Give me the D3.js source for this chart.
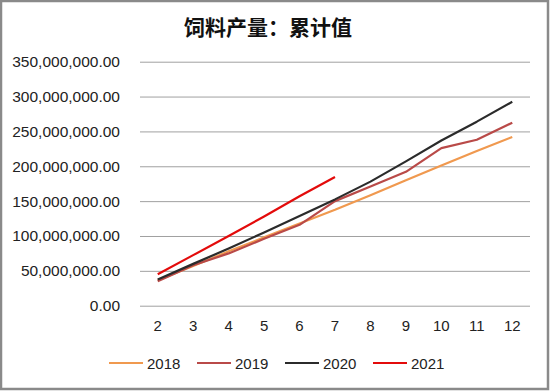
<!DOCTYPE html>
<html>
<head>
<meta charset="utf-8">
<script src="https://cdn.jsdelivr.net/npm/d3@7"></script>
<style>
  html, body { margin: 0; padding: 0; background: #fff; }
  svg { display: block; }
</style>
</head>
<body>
<svg id="chart" width="550" height="391"></svg>
<script>
const title = "饲料产量：累计值";
const months = ["2", "3", "4", "5", "6", "7", "8", "9", "10", "11", "12"];
const yTicks = [0, 50000000, 100000000, 150000000, 200000000, 250000000, 300000000, 350000000];
const seriesNames = ["2018", "2019", "2020", "2021"];
const v2018 = [36500000, 57000000, 78000000, 98000000, 118000000, 137500000, 158500000, 180000000, 201000000, 222000000, 242000000];
const v2019 = [35000000, 58000000, 75000000, 96000000, 116000000, 150000000, 171000000, 192000000, 226000000, 238000000, 262500000];
const v2020 = [37500000, 60000000, 82000000, 105000000, 128500000, 152500000, 178000000, 207000000, 237000000, 264000000, 292500000];
const v2021 = [45000000, 72500000, 100000000, 128000000, 157000000, 184500000];
const colors = ["#f0994f", "#b94a48", "#2b2b2b", "#e30b0b"];

const series = [v2018, v2019, v2020, v2021];
const svg = d3.select("#chart");
const W = 550, H = 391;
const font = "'Liberation Sans', Arial, sans-serif";

svg.append("rect").attr("x", 1).attr("y", 1).attr("width", W - 3).attr("height", H - 3)
  .attr("fill", "#fff").attr("stroke", "#8a8a8a").attr("stroke-width", 2.5);

const x = d3.scaleBand().domain(months).range([140, 530]);
const y = d3.scaleLinear().domain([0, 350000000]).range([305.7, 61.7]);

svg.append("text").attr("x", 268).attr("y", 35).attr("text-anchor", "middle")
  .attr("font-family", "'Noto Sans CJK SC', sans-serif").attr("font-weight", 700)
  .attr("font-size", 21).attr("fill", "#111").text(title);

// grid
const gy = svg.append("g").attr("transform", "translate(140,0)")
  .call(d3.axisLeft(y).tickValues(yTicks).tickSize(-390).tickPadding(20)
    .tickFormat(d => d3.format(",.2f")(d)));
gy.select(".domain").remove();
gy.selectAll(".tick line").attr("stroke", "#a0a0a0").attr("stroke-width", 1);
gy.selectAll(".tick text").attr("font-family", font).attr("font-size", 15.5).attr("fill", "#222");

const gx = svg.append("g").attr("transform", "translate(0,305.7)")
  .call(d3.axisBottom(x).tickSize(0).tickPadding(15));
gx.select(".domain").remove();
gx.selectAll(".tick text").attr("font-family", font).attr("font-size", 15).attr("fill", "#222");

const line = d3.line().x((d, i) => x(months[i]) + x.bandwidth() / 2).y(d => y(d));
series.forEach((s, k) => {
  svg.append("path").datum(s).attr("d", line).attr("fill", "none")
    .attr("stroke", colors[k]).attr("stroke-width", 2.2).attr("stroke-linejoin", "round");
});

// legend
const legX = [109, 197, 285, 373];
const leg = svg.append("g");
seriesNames.forEach((n, k) => {
  leg.append("line").attr("x1", legX[k]).attr("x2", legX[k] + 34).attr("y1", 363).attr("y2", 363)
    .attr("stroke", colors[k]).attr("stroke-width", 2.2);
  leg.append("text").attr("x", legX[k] + 38).attr("y", 368.5).attr("font-family", font)
    .attr("font-size", 15).attr("fill", "#222").text(n);
});
</script>
</body>
</html>
